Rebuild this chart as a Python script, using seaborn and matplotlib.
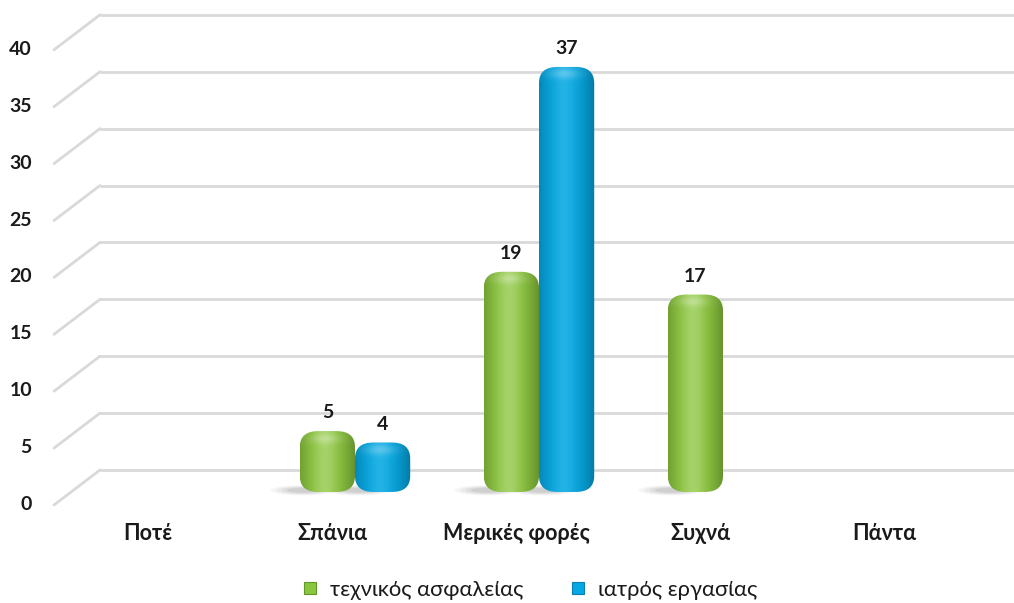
import numpy as np
import pandas as pd
import matplotlib
matplotlib.use("Agg")
import matplotlib.pyplot as plt
import matplotlib.transforms as mtransforms
from matplotlib.patches import FancyBboxPatch, Ellipse
from matplotlib.lines import Line2D
from matplotlib.colors import to_rgb
import seaborn as sns

# ---- data -------------------------------------------------------------
categories = ["Ποτέ", "Σπάνια", "Μερικές φορές", "Συχνά", "Πάντα"]
series_names = ["τεχνικός ασφαλείας", "ιατρός εργασίας"]
safety_technician = [None, 5, 19, 17, None]
occupational_doctor = [None, 4, 37, None, None]
y_ticks = [0, 5, 10, 15, 20, 25, 30, 35, 40]

series_colors = ["#8CC63E", "#05A8E2"]
series_edges = ["#5E9A2A", "#0A7FB0"]

rows = []
for name, values in zip(series_names, [safety_technician, occupational_doctor]):
    for cat, val in zip(categories, values):
        if val is not None:
            rows.append({"category": cat, "series": name, "value": val})
df = pd.DataFrame(rows)

# ---- figure -----------------------------------------------------------
sns.set_theme(style="white")
plt.rcParams["font.family"] = ["Lato", "DejaVu Sans"]

W, H = 1014, 603
fig = plt.figure(figsize=(W / 100, H / 100), dpi=100)
PX_X = 184.0      # pixels per category step
PX_Y = 11.38      # pixels per value unit
x0_px, base_py = 171.0, 488.0
y_low = -1.0
ax_bottom_py = base_py - y_low * PX_Y
ax = fig.add_axes([100 / W, (H - ax_bottom_py) / H, (W - 100) / W, ax_bottom_py / H])

palette = dict(zip(series_names, series_colors))
sns.barplot(data=df, x="category", y="value", hue="series", order=categories,
            hue_order=series_names, palette=palette, width=0.6, dodge=True,
            ax=ax, legend=False, saturation=1)

xlim = ((100 - x0_px) / PX_X, (W - x0_px) / PX_X)
ylim = (y_low, base_py / PX_Y)

# back-wall grid with perspective edge
grid_off = 18 / PX_Y
front_off = -17 / PX_Y
x_front = (54 - x0_px) / PX_X
for v in y_ticks:
    ax.plot([xlim[0], xlim[1]], [v + grid_off, v + grid_off], color="#D9D9D9",
            lw=2.0, zorder=0.5, clip_on=False, solid_capstyle="butt")
    ax.plot([xlim[0], x_front], [v + grid_off, v + front_off], color="#D9D9D9",
            lw=2.0, zorder=0.5, clip_on=False)


def cylinder_image(rgb, nx, ny, light_amt):
    u = np.linspace(0, 1, nx)[None, :]
    t = np.arange(ny)[:, None].astype(float)
    base = np.array(rgb)[None, None, :]
    light = light_amt * np.exp(-((u - 0.45) / 0.2) ** 2)
    dark = 0.28 * (np.abs(u - 0.45) / 0.55) ** 2
    cap = 0.22 * np.exp(-((t - 7) / 5) ** 2) * np.exp(-((u - 0.45) / 0.3) ** 2)
    col = base * (1 - dark[..., None]) * np.ones((ny, nx, 1))
    lt = (light + cap)[..., None]
    col = col + (1 - col) * lt
    img = np.concatenate([np.clip(col, 0, 1), np.ones((ny, nx, 1))], axis=2)
    return img


bar_bottom = -0.35
for cont, rgb_hex, light_amt in zip(ax.containers, series_colors, [0.22, 0.12]):
    rgb = to_rgb(rgb_hex)
    for patch in cont.patches:
        h = patch.get_height()
        if not np.isfinite(h) or h <= 0:
            continue
        x, w = patch.get_x(), patch.get_width()
        patch.set_visible(False)
        # soft floor shadow
        for k, a in enumerate([0.06, 0.08, 0.10, 0.12]):
            ax.add_patch(Ellipse((x + 0.02, bar_bottom + 0.15), width=0.36 - 0.06 * k,
                                 height=0.9 - 0.15 * k, facecolor="#707070",
                                 edgecolor="none", alpha=a, zorder=1))
        r = 0.1
        shape = FancyBboxPatch((x, bar_bottom), w, h - bar_bottom,
                               boxstyle=f"round,pad=0,rounding_size={r}",
                               mutation_aspect=(16 / PX_Y) / r,
                               facecolor="none", edgecolor="none",
                               transform=ax.transData)
        ax.add_patch(shape)
        nx = 64
        ny = max(int((h - bar_bottom) * PX_Y), 4)
        im = ax.imshow(cylinder_image(rgb, nx, ny, light_amt),
                       extent=[x, x + w, bar_bottom, h], origin="upper",
                       aspect="auto", zorder=2, interpolation="bilinear")
        im.set_clip_path(shape)

    labels = [f"{v:g}" if np.isfinite(v) and v > 0 else "" for v in cont.datavalues]
    ax.bar_label(cont, labels=labels, padding=7, fontsize=14, fontweight="bold",
                 color="#1A1A1A")

ax.set_xlim(*xlim)
ax.set_ylim(*ylim)
ax.set_xlabel("")
ax.set_ylabel("")
for s in ax.spines.values():
    s.set_visible(False)

ax.set_yticks(y_ticks)
ax.set_yticklabels([str(v) for v in y_ticks])
ax.tick_params(axis="y", length=0, pad=49, labelsize=14, labelcolor="#1A1A1A")
ax.tick_params(axis="x", length=0, pad=17, labelsize=15.5, labelcolor="#1A1A1A")
for lab in ax.get_yticklabels():
    lab.set_fontweight("bold")
    lab.set_transform(lab.get_transform() +
                      mtransforms.ScaledTranslation(0, -15 / 100, fig.dpi_scale_trans))
for lab in ax.get_xticklabels():
    lab.set_fontweight("bold")
    lab.set_transform(lab.get_transform() +
                      mtransforms.ScaledTranslation(-23 / 100, 0, fig.dpi_scale_trans))

handles = [Line2D([], [], ls="", marker="s", markersize=8, markerfacecolor=c,
                  markeredgecolor=e, markeredgewidth=0.8)
           for c, e in zip(series_colors, series_edges)]
fig.legend(handles, series_names, loc="center", bbox_to_anchor=(0.522, 0.022),
           ncol=2, frameon=False, fontsize=15.8, columnspacing=2.1,
           handlelength=0.8, handletextpad=0.5, labelcolor="#1A1A1A")

fig.savefig("out.png", dpi=100)
